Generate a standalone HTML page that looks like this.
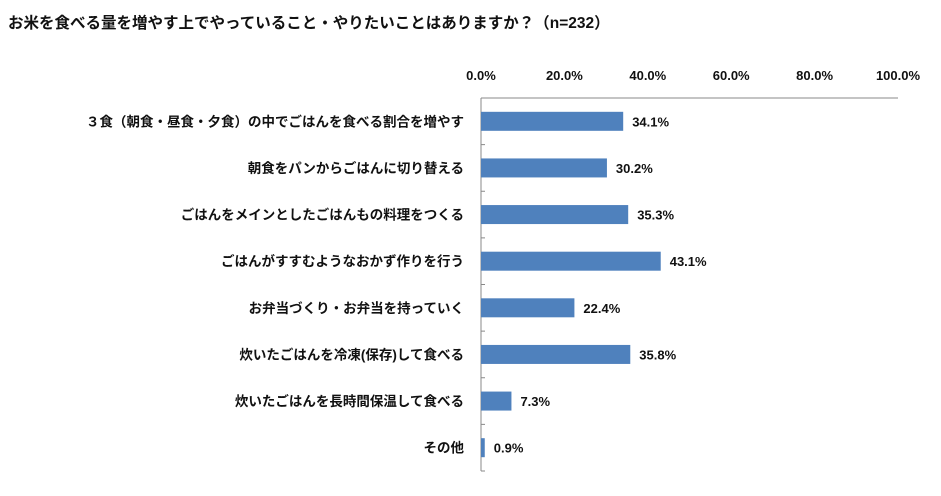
<!DOCTYPE html>
<html><head><meta charset="utf-8"><style>
body{margin:0;background:#fff;width:941px;height:491px;overflow:hidden;font-family:"Liberation Sans","Noto Sans CJK JP",sans-serif;}
svg text{font-family:"Liberation Sans","Noto Sans CJK JP",sans-serif;font-weight:bold;fill:#111;}
</style></head><body>
<svg id="chart" width="941" height="491">
<text x="8" y="28" font-size="15.5">お米を食べる量を増やす上でやっていること・やりたいことはありますか？（n=232）</text>
</svg>
<script>
const categories=["３食（朝食・昼食・夕食）の中でごはんを食べる割合を増やす","朝食をパンからごはんに切り替える","ごはんをメインとしたごはんもの料理をつくる","ごはんがすすむようなおかず作りを行う","お弁当づくり・お弁当を持っていく","炊いたごはんを冷凍(保存)して食べる","炊いたごはんを長時間保温して食べる","その他"];
const values=[34.1,30.2,35.3,43.1,22.4,35.8,7.3,0.9];
const ticks=[0,20,40,60,80,100];
const svgEl=document.getElementById('chart');
const NS='http://www.w3.org/2000/svg';
const x0=481,x1=898,plotTop=98,plotBottom=471;
const band=(plotBottom-plotTop)/categories.length;
function xs(v){return x0+(x1-x0)*v/100;}
function yc(i){return plotTop+band*(i+0.5);}
function mk(t,a){const e=document.createElementNS(NS,t);for(const k in a)e.setAttribute(k,a[k]);svgEl.appendChild(e);return e;}
ticks.forEach(t=>{
 const e=mk('text',{x:xs(t),y:80,'text-anchor':'middle','font-size':13});
 e.textContent=t.toFixed(1)+'%';
 
 
});
let ax=mk('line',{x1:x0,y1:plotTop,x2:x1,y2:plotTop,stroke:'#888','stroke-width':1});


let ay=mk('line',{x1:x0,y1:plotTop,x2:x0,y2:plotBottom,stroke:'#888','stroke-width':1});


for(let i=1;i<=categories.length;i++){
 const t=mk('line',{x1:x0,y1:plotTop+band*i,x2:x0+4,y2:plotTop+band*i,stroke:'#888'});
 
 
}
categories.forEach((c,i)=>{
 const l=mk('text',{x:464,y:yc(i)+5,'text-anchor':'end','font-size':13.5});
 l.textContent=c;
 
 
 const b=mk('rect',{x:x0,y:yc(i)-9.5,width:xs(values[i])-x0,height:19,fill:'#4f81bd'});
 
 
 const v=mk('text',{x:xs(values[i])+9,y:yc(i)+5,'font-size':13});
 v.textContent=values[i].toFixed(1)+'%';
 
 
});
</script>
</body></html>
